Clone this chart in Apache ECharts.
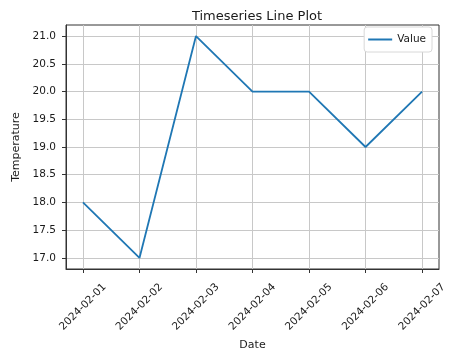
<!DOCTYPE html>
<html>
<head>
<meta charset="utf-8">
<script src="https://cdn.jsdelivr.net/npm/echarts@6/dist/echarts.min.js"></script>
<style>html,body{margin:0;padding:0;background:#fff}#c{width:474px;height:360px}</style>
</head>
<body>
<div id="c"></div>
<script>
var dates = ['2024-02-01','2024-02-02','2024-02-03','2024-02-04','2024-02-05','2024-02-06','2024-02-07'];
var values = [18.0, 17.0, 21.0, 20.0, 20.0, 19.0, 20.0];
var yTicks = [17.0, 17.5, 18.0, 18.5, 19.0, 19.5, 20.0, 20.5, 21.0];

var xIdx = dates.map(function(d, i){ return i; });
var seriesData = values.map(function(v, i){ return [i, v]; });
var font = 'DejaVu Sans';

var chart = echarts.init(document.getElementById('c'), null, {renderer: 'canvas'});
chart.setOption({
  animation: false,
  backgroundColor: '#fff',
  title: {
    text: 'Timeseries Line Plot',
    left: 252, top: 5, textAlign: 'center',
    textStyle: {fontFamily: font, fontSize: 13, fontWeight: 'normal', color: '#1a1a1a'}
  },
  grid: {left: 66, right: 35, top: 25, bottom: 91, show: true, borderColor: '#333', borderWidth: 1, containLabel: false},
  legend: {
    right: 42, top: 27,
    data: [{name: 'Value', icon: 'rect'}],
    itemWidth: 24, itemHeight: 2, itemGap: 6,
    padding: [7, 6, 7, 4],
    borderColor: '#d8d8d8', borderWidth: 1, borderRadius: 3,
    backgroundColor: '#fff',
    textStyle: {fontFamily: font, fontSize: 10.5, color: '#1a1a1a'}
  },
  xAxis: {
    type: 'value',
    min: -0.3, max: 6.3,
    name: 'Date', nameLocation: 'middle', nameGap: 64,
    nameTextStyle: {fontFamily: font, fontSize: 11, color: '#1a1a1a'},
    axisLine: {show: true, onZero: false, lineStyle: {color: '#333', width: 1}},
    axisTick: {show: true, length: 4, customValues: xIdx, lineStyle: {color: '#333'}},
    axisLabel: {
      customValues: xIdx, rotate: 45, margin: 38,
      align: 'center', verticalAlign: 'middle',
      fontFamily: font, fontSize: 10.5, color: '#1a1a1a',
      formatter: function(v){ return dates[Math.round(v)]; }
    },
    splitLine: {show: true, lineStyle: {color: '#c8c8c8', width: 1}}
  },
  yAxis: {
    type: 'value',
    min: 16.8, max: 21.2,
    name: 'Temperature', nameLocation: 'middle', nameGap: 38,
    nameTextStyle: {fontFamily: font, fontSize: 11, color: '#1a1a1a'},
    axisLine: {show: true, onZero: false, lineStyle: {color: '#333', width: 1}},
    axisTick: {show: true, length: 4, customValues: yTicks, lineStyle: {color: '#333'}},
    axisLabel: {
      customValues: yTicks, margin: 10,
      fontFamily: font, fontSize: 10.5, color: '#1a1a1a',
      formatter: function(v){ return v.toFixed(1); }
    },
    splitLine: {show: true, lineStyle: {color: '#c8c8c8', width: 1}}
  },
  series: [{
    name: 'Value',
    type: 'line',
    data: seriesData,
    symbol: 'none',
    lineStyle: {color: '#1f77b4', width: 1.8},
    itemStyle: {color: '#1f77b4'}
  }]
});
</script>
</body>
</html>
